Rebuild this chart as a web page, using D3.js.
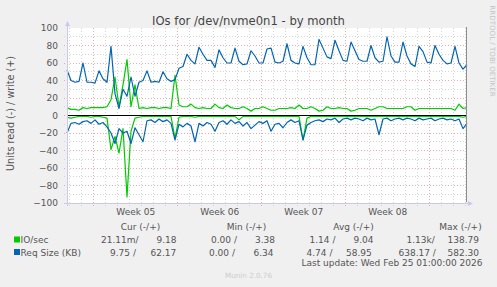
<!DOCTYPE html>
<html>
<head>
<meta charset="utf-8">
<script src="https://cdnjs.cloudflare.com/ajax/libs/d3/7.8.5/d3.min.js"></script>
<style>
  body { margin: 0; background: #f0f0f0; }
  svg { display: block; font-family: "DejaVu Sans", sans-serif; }
</style>
</head>
<body>
<script>
// values, one sample every 8 hours
var ioWrite = [9, 7, 7, 6, 9, 8, 9, 9, 9, 9,
    10, 18, 44, 10, 35, 64, 10, 35, 8, 9,
    8, 9, 9, 8, 9, 9, 8, 46, 12, 10,
    10, 13, 9, 8, 9, 8, 8, 13, 9, 8,
    12, 9, 8, 8, 10, 8, 5, 8, 8, 10,
    8, 6, 6, 8, 8, 8, 9, 8, 12, 8,
    8, 10, 8, 5, 6, 10, 8, 8, 9, 8,
    8, 5, 6, 8, 8, 8, 6, 8, 10, 10,
    8, 8, 8, 8, 8, 10, 10, 6, 8, 8,
    8, 8, 8, 8, 8, 8, 8, 6, 13, 8,
    9];
var ioRead = [-2, -3, -2, -1, -1, -1, -2, -1, -1, -2,
    -3, -39, -24, -43, -15, -93, -18, -3, -2, -1,
    -1, -1, -1, -1, -1, -1, -1, -26, -2, -1,
    -1, -1, -2, -1, -1, -1, -1, -1, -1, -1,
    -1, -1, -1, -5, -1, -1, -1, -1, -1, -1,
    -1, -1, -1, -1, -1, -1, -1, -1, -1, -28,
    -3, -1, -1, -1, -1, -1, -1, -1, -1, -1,
    -1, -1, -1, -1, -1, -1, -1, -1, -1, -1,
    -1, -1, -1, -1, -1, -1, -1, -1, -1, -1,
    -1, -1, -1, -1, -1, -1, -1, -1, -1, -2,
    -1];
var reqWrite = [52, 40, 38, 39, 60, 38, 38, 37, 51, 42,
    38, 79, 25, 8, 30, 22, 44, 22, 38, 40,
    51, 38, 39, 38, 50, 42, 39, 41, 54, 56,
    70, 63, 59, 78, 70, 63, 63, 55, 75, 66,
    60, 60, 77, 62, 58, 59, 74, 68, 60, 60,
    76, 77, 61, 60, 62, 82, 63, 60, 59, 79,
    66, 58, 58, 87, 77, 67, 65, 86, 74, 63,
    62, 84, 74, 64, 62, 62, 80, 66, 61, 62,
    90, 68, 61, 61, 84, 68, 59, 56, 79, 73,
    61, 60, 80, 70, 63, 59, 60, 79, 60, 53,
    58];
var reqRead = [-20, -9, -8, -10, -7, -6, -9, -5, -10, -8,
    -13, -20, -32, -15, -20, -18, -32, -14, -22, -30,
    -6, -5, -8, -4, -7, -5, -9, -28, -10, -13,
    -9, -12, -30, -9, -12, -8, -10, -18, -8, -6,
    -10, -5, -9, -7, -12, -8, -15, -11, -7, -9,
    -6, -18, -10, -9, -14, -8, -5, -8, -6, -28,
    -11, -8, -6, -5, -7, -4, -5, -3, -8, -4,
    -3, -5, -3, -4, -6, -3, -5, -4, -22, -4,
    -3, -6, -4, -3, -5, -3, -4, -6, -3, -5,
    -4, -3, -6, -4, -3, -5, -4, -6, -4, -15,
    -9];

var yTicks = [-100, -80, -60, -40, -20, 0, 20, 40, 60, 80, 100];
var legendNames = ["IO/sec", "Req Size (KB)"];
var legendColors = ["#00cc00", "#0066b3"];
var legendHeads = ["Cur (-/+)", "Min (-/+)", "Avg (-/+)", "Max (-/+)"];
var ioCells = ["21.11m/", "9.18", "0.00 /", "3.38", "1.14 /", "9.04", "1.13k/", "138.79"];
var reqCells = ["9.75 /", "62.17", "0.00 /", "6.34", "4.74 /", "58.95", "638.17 /", "582.30"];
var lastUpdate = "Last update: Wed Feb 25 01:00:00 2026";

// layout
var W = 497, H = 287;
var gLeft = 67, gRight = 467, gTop = 28, gBottom = 203;
var headX = [140.5, 246.5, 353.5, 460.5];
var ioCellX = [101, 156.5, 211, 255, 309.5, 353.5, 406.5, 447.5];
var reqCellX = [110, 150.5, 209, 253.5, 306.5, 346, 398.5, 447.5];

var t0 = Date.UTC(2026, 0, 23, 19, 30);
var step = 8 * 3600 * 1000;
var times = reqWrite.map(function(d, i) { return new Date(t0 + i * step); });
var t1 = times[times.length - 1];

var x = d3.scaleUtc().domain([times[0], t1]).range([gLeft, gRight]);
var y = d3.scaleLinear().domain([-100, 100]).range([gBottom, gTop]);

var svg = d3.select('body')
    .append('svg')
    .attr('width', W)
    .attr('height', H);

svg.append('rect').attr('width', W).attr('height', H).attr('fill', '#f0f0f0');
svg.append('rect')
    .attr('x', gLeft).attr('y', gTop)
    .attr('width', gRight - 1 - gLeft).attr('height', gBottom - gTop)
    .attr('fill', '#ffffff');

// grid
var hGrid = d3.range(-90, 100, 10);
svg.append('g').selectAll('line')
    .data(hGrid)
    .enter().append('line')
    .attr('x1', gLeft - 3).attr('x2', gRight - 1)
    .attr('y1', function(d) { return Math.floor(y(d)) + 0.5; })
    .attr('y2', function(d) { return Math.floor(y(d)) + 0.5; })
    .attr('stroke', function(d) { return d % 20 === 0 ? '#f0a8a8' : '#d4d4d4'; })
    .attr('stroke-dasharray', '1,2');

var days = d3.utcDay.range(times[0], t1);
svg.append('g').selectAll('line')
    .data(days)
    .enter().append('line')
    .attr('x1', function(d) { return Math.round(x(d)) + 0.5; })
    .attr('x2', function(d) { return Math.round(x(d)) + 0.5; })
    .attr('y1', gTop).attr('y2', gBottom + 3)
    .attr('stroke', function(d) { return d.getUTCDay() === 1 ? '#f0a8a8' : '#d4d4d4'; })
    .attr('stroke-dasharray', '1,2');

// series
function line(vals) {
    return d3.line()
        .x(function(d, i) { return x(times[i]); })
        .y(function(d) { return y(d); })(vals);
}
var series = [[ioWrite, legendColors[0]], [ioRead, legendColors[0]],
              [reqWrite, legendColors[1]], [reqRead, legendColors[1]]];
svg.append('g').selectAll('path')
    .data(series)
    .enter().append('path')
    .attr('d', function(d) { return line(d[0]); })
    .attr('fill', 'none')
    .attr('stroke', function(d) { return d[1]; })
    .attr('stroke-width', 1.2)
    .attr('stroke-linejoin', 'round');

// zero line and right border
svg.append('line')
    .attr('x1', gLeft).attr('x2', gRight - 1)
    .attr('y1', y(0)).attr('y2', y(0))
    .attr('stroke', '#000').attr('stroke-width', 1.2);
svg.append('line')
    .attr('x1', gRight - 0.5).attr('x2', gRight - 0.5)
    .attr('y1', gTop - 1).attr('y2', gBottom - 1)
    .attr('stroke', '#8c8c8c');

// axis lines with arrows
var axisCol = '#c8c8f0';
svg.append('line').attr('x1', gLeft + 0.5).attr('x2', gLeft + 0.5)
    .attr('y1', gBottom + 3).attr('y2', gTop - 2).attr('stroke', axisCol);
svg.append('line').attr('x1', gLeft - 3).attr('x2', gRight + 1)
    .attr('y1', gBottom + 0.5).attr('y2', gBottom + 0.5).attr('stroke', axisCol);
svg.append('path').attr('d', 'M' + (gLeft - 2) + ',' + (gTop - 2) + 'L' + (gLeft + 0.5) + ',' + (gTop - 7) + 'L' + (gLeft + 3) + ',' + (gTop - 2) + 'Z')
    .attr('fill', axisCol);
svg.append('path').attr('d', 'M' + (gRight + 1) + ',' + (gBottom - 2) + 'L' + (gRight + 6) + ',' + (gBottom + 0.5) + 'L' + (gRight + 1) + ',' + (gBottom + 3) + 'Z')
    .attr('fill', axisCol);

// y axis labels
var yAxis = svg.append('g')
    .attr('transform', 'translate(' + gLeft + ',0)')
    .call(d3.axisLeft(y).tickValues(yTicks).tickSize(0).tickPadding(9));
yAxis.select('.domain').remove();
yAxis.selectAll('text')
    .attr('font-family', 'DejaVu Sans')
    .attr('font-size', '9px')
    .attr('fill', '#555');

// x axis week labels
var weekMids = d3.utcMonday.range(new Date(+times[0] - 7 * 864e5), t1)
    .map(function(d) { return new Date(+d + 3.5 * 864e5); })
    .filter(function(d) { return d > times[0] && d < t1; });
var xAxis = svg.append('g')
    .attr('transform', 'translate(0,' + gBottom + ')')
    .call(d3.axisBottom(x).tickValues(weekMids).tickFormat(d3.utcFormat('Week %V')).tickSize(0).tickPadding(6));
xAxis.select('.domain').remove();
xAxis.selectAll('text')
    .attr('font-family', 'DejaVu Sans')
    .attr('font-size', '9px')
    .attr('fill', '#555');

// titles
svg.append('text')
    .attr('x', 248.5).attr('y', 25)
    .attr('text-anchor', 'middle')
    .attr('font-size', '11.6px')
    .attr('fill', '#444')
    .text('IOs for /dev/nvme0n1 - by month');

svg.append('text')
    .attr('transform', 'translate(14,113.5) rotate(-90)')
    .attr('text-anchor', 'middle')
    .attr('font-size', '9.6px')
    .attr('fill', '#555')
    .text('Units read (-) / write (+)');

svg.append('text')
    .attr('transform', 'translate(489.5,51) rotate(90)')
    .attr('text-anchor', 'middle')
    .attr('font-size', '7.1px')
    .attr('fill', '#c4c4c4')
    .text('RRDTOOL / TOBI OETIKER');

// legend
var legend = svg.append('g').attr('font-size', '9px').attr('fill', '#555');
legend.selectAll('text.head')
    .data(legendHeads)
    .enter().append('text')
    .attr('class', 'head')
    .attr('x', function(d, i) { return headX[i]; })
    .attr('y', 230)
    .attr('text-anchor', 'middle')
    .text(function(d) { return d; });

legendNames.forEach(function(name, r) {
    var by = 243 + r * 12.5;
    legend.append('rect')
        .attr('x', 14).attr('y', by - 6.5)
        .attr('width', 6).attr('height', 6)
        .attr('fill', legendColors[r]);
    legend.append('text')
        .attr('x', 20.5).attr('y', by)
        .text(name);
    var cells = r === 0 ? ioCells : reqCells;
    var cx = r === 0 ? ioCellX : reqCellX;
    legend.selectAll('text.c' + r)
        .data(cells)
        .enter().append('text')
        .attr('class', 'c' + r)
        .attr('x', function(d, i) { return cx[i]; })
        .attr('y', by)
        .style('white-space', 'pre')
        .text(function(d) { return d; });
});

legend.append('text')
    .attr('x', 482.5).attr('y', 266)
    .attr('text-anchor', 'end')
    .text(lastUpdate);

svg.append('text')
    .attr('x', 248.5).attr('y', 278)
    .attr('text-anchor', 'middle')
    .attr('font-size', '7.2px')
    .attr('fill', '#cccccc')
    .text('Munin 2.0.76');
</script>
</body>
</html>
